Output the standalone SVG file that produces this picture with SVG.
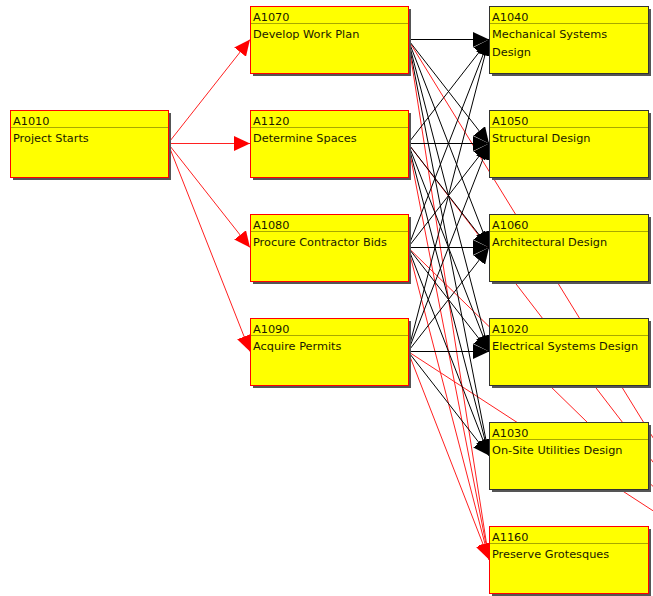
<svg xmlns="http://www.w3.org/2000/svg" width="653" height="596" viewBox="0 0 653 596">
<style>
.shadow{fill:#555555}
.box{fill:#ffff00;stroke-width:1}
.crit{stroke:#ff0000}
.norm{stroke:#333333}
.div{stroke:#a8a800;stroke-width:1}
.t{font-family:"DejaVu Sans",Verdana,sans-serif;font-size:11.3px;fill:#1a1a00}
.er{stroke:#ff2020;stroke-width:1;fill:none}
.eb{stroke:#000000;stroke-width:1;fill:none}
</style>
<defs>
<marker id="ar" viewBox="0 0 16 15" refX="16" refY="7.5" markerWidth="16" markerHeight="15" markerUnits="userSpaceOnUse" orient="auto"><path d="M0,0 L16,7.5 L0,15 z" fill="#ff0000"/></marker>
<marker id="ab" viewBox="0 0 16 15" refX="16" refY="7.5" markerWidth="16" markerHeight="15" markerUnits="userSpaceOnUse" orient="auto"><path d="M0,0 L16,7.5 L0,15 z" fill="#000000"/></marker>
</defs>
<g id="connectors">
<!-- A1010 to middle -->
<line class="er" x1="168" y1="143.5" x2="250" y2="39.5" marker-end="url(#ar)"/>
<line class="er" x1="168" y1="143.5" x2="250" y2="143.5" marker-end="url(#ar)"/>
<line class="er" x1="168" y1="143.5" x2="250" y2="247.5" marker-end="url(#ar)"/>
<line class="er" x1="168" y1="143.5" x2="250" y2="351.5" marker-end="url(#ar)"/>
<!-- to off-canvas node -->
<line class="er" x1="408" y1="39.5" x2="728" y2="559.5"/>
<line class="er" x1="408" y1="143.5" x2="728" y2="559.5"/>
<line class="er" x1="408" y1="247.5" x2="728" y2="559.5"/>
<line class="er" x1="408" y1="351.5" x2="728" y2="559.5"/>
<!-- from A1070 -->
<line class="eb" x1="408" y1="39.5" x2="489" y2="39.5" marker-end="url(#ab)"/>
<line class="eb" x1="408" y1="39.5" x2="489" y2="143.5" marker-end="url(#ab)"/>
<line class="eb" x1="408" y1="39.5" x2="489" y2="247.5" marker-end="url(#ab)"/>
<line class="eb" x1="408" y1="39.5" x2="489" y2="351.5" marker-end="url(#ab)"/>
<line class="eb" x1="408" y1="39.5" x2="489" y2="455.5" marker-end="url(#ab)"/>
<line class="er" x1="408" y1="39.5" x2="489" y2="559.5" marker-end="url(#ar)"/>
<!-- from A1120 -->
<line class="eb" x1="408" y1="143.5" x2="489" y2="39.5" marker-end="url(#ab)"/>
<line class="eb" x1="408" y1="143.5" x2="489" y2="143.5" marker-end="url(#ab)"/>
<line class="eb" x1="408" y1="143.5" x2="489" y2="247.5" marker-end="url(#ab)"/>
<line class="eb" x1="408" y1="143.5" x2="489" y2="351.5" marker-end="url(#ab)"/>
<line class="eb" x1="408" y1="143.5" x2="489" y2="455.5" marker-end="url(#ab)"/>
<line class="er" x1="408" y1="143.5" x2="489" y2="559.5" marker-end="url(#ar)"/>
<!-- from A1080 -->
<line class="eb" x1="408" y1="247.5" x2="489" y2="39.5" marker-end="url(#ab)"/>
<line class="eb" x1="408" y1="247.5" x2="489" y2="143.5" marker-end="url(#ab)"/>
<line class="eb" x1="408" y1="247.5" x2="489" y2="247.5" marker-end="url(#ab)"/>
<line class="eb" x1="408" y1="247.5" x2="489" y2="351.5" marker-end="url(#ab)"/>
<line class="eb" x1="408" y1="247.5" x2="489" y2="455.5" marker-end="url(#ab)"/>
<line class="er" x1="408" y1="247.5" x2="489" y2="559.5" marker-end="url(#ar)"/>
<!-- from A1090 -->
<line class="eb" x1="408" y1="351.5" x2="489" y2="39.5" marker-end="url(#ab)"/>
<line class="eb" x1="408" y1="351.5" x2="489" y2="143.5" marker-end="url(#ab)"/>
<line class="eb" x1="408" y1="351.5" x2="489" y2="247.5" marker-end="url(#ab)"/>
<line class="eb" x1="408" y1="351.5" x2="489" y2="351.5" marker-end="url(#ab)"/>
<line class="eb" x1="408" y1="351.5" x2="489" y2="455.5" marker-end="url(#ab)"/>
<line class="er" x1="408" y1="351.5" x2="489" y2="559.5" marker-end="url(#ar)"/>
</g>
<g id="A1010">
<rect class="shadow" x="13" y="113" width="158" height="67"/>
<rect class="box crit" x="10.5" y="110.5" width="158" height="67"/>
<line class="div" x1="11" y1="127.5" x2="168" y2="127.5"/>
<text class="t" x="13" y="125">A1010</text>
<text class="t" x="13" y="142">Project Starts</text>
</g>
<g id="A1070">
<rect class="shadow" x="253" y="9" width="158" height="67"/>
<rect class="box crit" x="250.5" y="6.5" width="158" height="67"/>
<line class="div" x1="251" y1="23.5" x2="408" y2="23.5"/>
<text class="t" x="253" y="21">A1070</text>
<text class="t" x="253" y="38">Develop Work Plan</text>
</g>
<g id="A1120">
<rect class="shadow" x="253" y="113" width="158" height="67"/>
<rect class="box crit" x="250.5" y="110.5" width="158" height="67"/>
<line class="div" x1="251" y1="127.5" x2="408" y2="127.5"/>
<text class="t" x="253" y="125">A1120</text>
<text class="t" x="253" y="142">Determine Spaces</text>
</g>
<g id="A1080">
<rect class="shadow" x="253" y="217" width="158" height="67"/>
<rect class="box crit" x="250.5" y="214.5" width="158" height="67"/>
<line class="div" x1="251" y1="231.5" x2="408" y2="231.5"/>
<text class="t" x="253" y="229">A1080</text>
<text class="t" x="253" y="246">Procure Contractor Bids</text>
</g>
<g id="A1090">
<rect class="shadow" x="253" y="321" width="158" height="67"/>
<rect class="box crit" x="250.5" y="318.5" width="158" height="67"/>
<line class="div" x1="251" y1="335.5" x2="408" y2="335.5"/>
<text class="t" x="253" y="333">A1090</text>
<text class="t" x="253" y="350">Acquire Permits</text>
</g>
<g id="A1040">
<rect class="shadow" x="492" y="9" width="159" height="67"/>
<rect class="box norm" x="489.5" y="6.5" width="159" height="67"/>
<line class="div" x1="490" y1="23.5" x2="648" y2="23.5"/>
<text class="t" x="492" y="21">A1040</text>
<text class="t" x="492" y="38">Mechanical Systems</text>
<text class="t" x="492" y="56">Design</text>
</g>
<g id="A1050">
<rect class="shadow" x="492" y="113" width="159" height="67"/>
<rect class="box norm" x="489.5" y="110.5" width="159" height="67"/>
<line class="div" x1="490" y1="127.5" x2="648" y2="127.5"/>
<text class="t" x="492" y="125">A1050</text>
<text class="t" x="492" y="142">Structural Design</text>
</g>
<g id="A1060">
<rect class="shadow" x="492" y="217" width="159" height="67"/>
<rect class="box norm" x="489.5" y="214.5" width="159" height="67"/>
<line class="div" x1="490" y1="231.5" x2="648" y2="231.5"/>
<text class="t" x="492" y="229">A1060</text>
<text class="t" x="492" y="246">Architectural Design</text>
</g>
<g id="A1020">
<rect class="shadow" x="492" y="321" width="159" height="67"/>
<rect class="box norm" x="489.5" y="318.5" width="159" height="67"/>
<line class="div" x1="490" y1="335.5" x2="648" y2="335.5"/>
<text class="t" x="492" y="333">A1020</text>
<text class="t" x="492" y="350">Electrical Systems Design</text>
</g>
<g id="A1030">
<rect class="shadow" x="492" y="425" width="159" height="67"/>
<rect class="box norm" x="489.5" y="422.5" width="159" height="67"/>
<line class="div" x1="490" y1="439.5" x2="648" y2="439.5"/>
<text class="t" x="492" y="437">A1030</text>
<text class="t" x="492" y="454">On-Site Utilities Design</text>
</g>
<g id="A1160">
<rect class="shadow" x="492" y="529" width="159" height="67"/>
<rect class="box crit" x="489.5" y="526.5" width="159" height="67"/>
<line class="div" x1="490" y1="543.5" x2="648" y2="543.5"/>
<text class="t" x="492" y="541">A1160</text>
<text class="t" x="492" y="558">Preserve Grotesques</text>
</g>
</svg>
